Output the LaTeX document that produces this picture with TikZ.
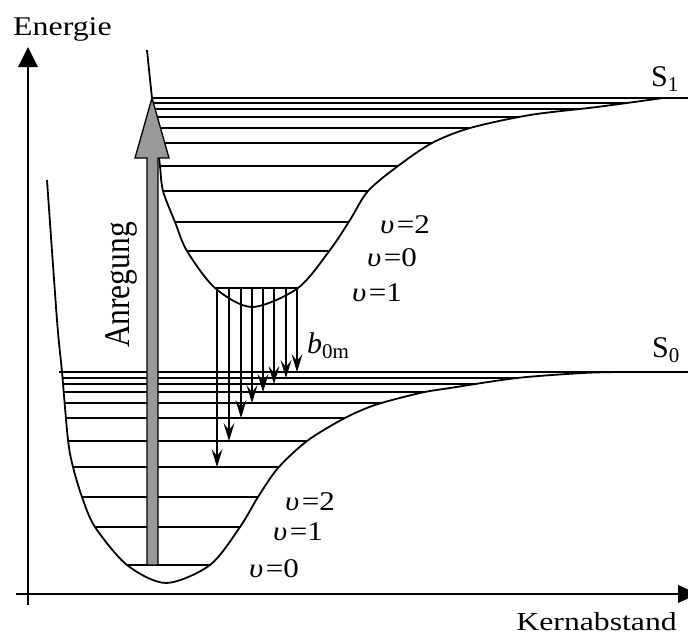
\documentclass[tikz,border=0pt]{standalone}
\usepackage{fontspec}
\setmainfont{Liberation Serif}
\usetikzlibrary{arrows.meta}
\begin{document}
\begin{tikzpicture}[x=1pt,y=-1pt,
  curve/.style={line width=1.8pt, line join=round},
  levelline/.style={line width=1.25pt},
  axisline/.style={line width=1.4pt},
  trans/.style={line width=1.25pt},
  lbl/.style={inner sep=0pt, xscale=1.18, font=\fontsize{27}{27}\selectfont},
  vlbl/.style={inner sep=0pt, xscale=1.15, font=\fontsize{27}{27}\selectfont},
  slbl/.style={inner sep=0pt, font=\fontsize{30}{30}\selectfont},
]
\definecolor{arrowgray}{RGB}{153,153,153}
\useasboundingbox (0,0) rectangle (688,635);

% axes
\draw[axisline] (28,605) -- (28,66);
\fill (28,47) -- (18,67) -- (38,67) -- cycle;
\draw[axisline] (16,594) -- (679,594);
\fill (698,594) -- (678,585) -- (678,603) -- cycle;

% S0 levels (clipped to the well)
\begin{scope}
\clip plot[smooth, tension=0.5] coordinates {(47,180) (57,320) (62,372) (68,440) (73,467) (82,497) (95,527) (127,565) (166,583) (210,565) (240,527) (258,497) (278,468) (307,441) (343,419) (375,405) (420,393) (450,388) (517,378) (583,373) (620,372)} -- (700,372) -- (700,0) -- (0,0) -- (0,180) -- cycle;
\foreach \yy in {378,384,392,403,418,441,467,497,527,565}
  \draw[levelline] (30,\yy) -- (690,\yy);
\end{scope}
\draw[levelline] (59,372) -- (690,372);

% S1 levels (clipped to the well)
\begin{scope}
\clip plot[smooth, tension=0.5] coordinates {(147,50) (152,98) (157,140) (160,166) (163,191) (175,222) (187,251) (215,288) (252,307) (298,288) (330,250) (350,220) (368,191) (398,166) (432,143) (470,128) (530,115) (597,107) (663,98)} -- (700,98) -- (700,0) -- (100,0) -- (100,50) -- cycle;
\foreach \yy in {103,109,117,128,143,166,191,222,251,288}
  \draw[levelline] (140,\yy) -- (690,\yy);
\end{scope}
\draw[levelline] (152,98) -- (690,98);

% potential curves
\draw[curve] plot[smooth, tension=0.5] coordinates {(47,180) (57,320) (62,372) (68,440) (73,467) (82,497) (95,527) (127,565) (166,583) (210,565) (240,527) (258,497) (278,468) (307,441) (343,419) (375,405) (420,393) (450,388) (517,378) (583,373) (620,372)} -- (690,372);
\draw[curve] plot[smooth, tension=0.5] coordinates {(147,50) (152,98) (157,140) (160,166) (163,191) (175,222) (187,251) (215,288) (252,307) (298,288) (330,250) (350,220) (368,191) (398,166) (432,143) (470,128) (530,115) (597,107) (663,98)} -- (690,98);

% excitation arrow
\draw[line width=1.3pt, line join=miter, fill=arrowgray] (147,565) -- (147,158) -- (135,158) -- (152,98) -- (169,158) -- (158,158) -- (158,565) -- cycle;

% emission transitions with barbed heads
\foreach \xx/\yy in {217/467,229/441,241/418,252/403,263/392,274/384,286/378,297/372}{
  \draw[trans] (\xx,288) -- (\xx,\yy-8);
  \fill (\xx,\yy) -- (\xx-5.5,\yy-18) -- (\xx,\yy-11) -- (\xx+5.5,\yy-18) -- cycle;
}

% labels
\node[lbl, anchor=base west] (energie) at (13,35) {Energie};
\node[inner sep=0pt, xscale=1.22, font=\fontsize{26}{26}\selectfont, anchor=base east] (kern) at (677,630) {Kernabstand};
\node[inner sep=0pt, xscale=1.15, rotate=90, font=\fontsize{31.5}{31.5}\selectfont] (anr) at (121,285) {Anregung};
\node[slbl, anchor=base west] (s1) at (651,86) {S\textsubscript{1}};
\node[slbl, anchor=base west] (s0) at (652,357) {S\textsubscript{0}};
\node[anchor=base west, inner sep=0pt, font=\fontsize{30}{30}\selectfont] (b0m) at (307,353) {\textit{b}\textsubscript{0m}};
\node[vlbl, anchor=base west] (u12) at (380,233) {\textit{υ}\kern2pt=2};
\node[vlbl, anchor=base west] (u10) at (367,266) {\textit{υ}\kern2pt=0};
\node[vlbl, anchor=base west] (u11) at (352,301) {\textit{υ}\kern2pt=1};
\node[vlbl, anchor=base west] (u02) at (285,510) {\textit{υ}\kern2pt=2};
\node[vlbl, anchor=base west] (u01) at (273,540) {\textit{υ}\kern2pt=1};
\node[vlbl, anchor=base west] (u00) at (249,577) {\textit{υ}\kern2pt=0};
\end{tikzpicture}
\end{document}
